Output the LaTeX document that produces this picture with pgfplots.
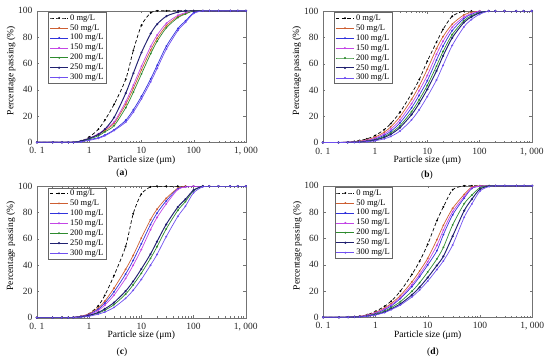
\documentclass[border=0pt]{standalone}
\usepackage{fontspec}
\setmainfont{Liberation Serif}
\usepackage{pgfplots}
\usepackage{pgfplotstable}
\pgfplotsset{compat=1.18}

\definecolor{cA}{RGB}{205,95,50}
\definecolor{cB}{RGB}{50,50,220}
\definecolor{cC}{RGB}{195,70,230}
\definecolor{cD}{RGB}{46,139,46}
\definecolor{cE}{RGB}{32,32,112}
\definecolor{cF}{RGB}{112,80,240}

\pgfplotstableread{
x c0 c50 c100 c150 c200 c250 c300
0.1 0 0 0 0 0 0 0
0.2 0 0 0 0 0 0 0
0.3 0 0 0 0 0 0 0
0.4 0 0 0 0 0 0 0
0.5 0 0.2 0 0.2 0.2 0 0
0.7 1 1 0.5 1 1 1 0.4
1 4 3 2 3 2.5 3 1.5
1.5 10 6 3.5 6.5 5 6 3
2 17 9 5.5 10 8 10 5
3 29 14.5 9.5 15.5 12.7 19 9
5 48 28.9 16.8 30.9 26.3 37.4 15.4
7 70 41.1 24.8 43.6 38.2 52.6 23
10 89 55.1 35 57.9 52 68.3 33
15 98.5 70.1 48.2 72.9 67.4 82.7 46
20 100 79.1 58.7 81.6 76.9 89.9 56.3
30 100 88.7 73.2 90.5 87.1 95.9 70.9
50 100 95.7 86.6 96.6 94.9 99 85.1
70 100 98 92.4 98.5 97.6 100 91.4
100 100 100 98.5 100 100 100 98
150 100 100 100 100 100 100 100
200 100 100 100 100 100 100 100
300 100 100 100 100 100 100 100
500 100 100 100 100 100 100 100
700 100 100 100 100 100 100 100
1000 100 100 100 100 100 100 100
}\tabA

\pgfplotstableread{
x c0 c50 c100 c150 c200 c250 c300
0.1 0 0 0 0 0 0 0
0.2 0 0 0 0 0 0 0
0.3 0.3 0.3 0.2 0.3 0.1 0.1 0.1
0.4 0.9 0.7 0.4 0.5 0.3 0.2 0.15
0.5 1.5 1.1 0.7 0.8 0.5 0.4 0.3
0.7 2.8 2.1 1.4 1.7 1.0 0.9 0.6
1 5.3 4.1 2.7 3.3 2.2 1.8 1.3
1.5 9.8 7.9 5.5 6.6 4.5 3.9 2.8
2 14.4 11.9 8.5 10.1 7.2 6.2 4.6
3 23 19.6 14.9 17.1 12.8 11.3 8.7
5 37.2 32.8 26.4 29.5 23.5 21.2 17.2
7 47.8 43 35.9 39.4 32.5 29.8 24.9
10 61.8 55.7 47 51 43.4 40.5 34.9
15 76.3 71.3 62.7 67.1 58.1 54.4 47.5
20 86 80.5 73.3 77 69.2 65.8 58.6
30 96 90 85.1 87.7 82.1 79.6 73.8
50 100 97 94.2 95.4 92.6 91.2 87.8
70 100 99 97.5 98 96.4 95.5 93.5
100 100 100 99.5 100 98.8 98.5 97.5
150 100 100 100 100 100 100 100
200 100 100 100 100 100 100 100
300 100 100 100 100 100 100 100
500 100 100 100 100 100 100 100
700 100 100 100 100 100 100 100
1000 100 100 100 100 100 100 100
}\tabB

\pgfplotstableread{
x c0 c50 c100 c150 c200 c250 c300
0.1 0 0 0 0 0 0 0
0.2 0 0 0 0 0 0 0
0.3 0 0 0 0 0 0 0
0.4 0 0 0 0 0 0 0
0.5 0 0.3 0.3 0.3 0.2 0.2 0.1
0.7 0.5 1.2 1.0 0.9 0.6 0.7 0.4
1 3 3 2.5 2.2 1.5 1.8 1.1
1.5 9 7.5 6.5 5.5 3.5 4 2.7
2 17 12.5 11 9.5 5.7 6.7 4.3
3 32 22.4 19.6 17.1 9.9 11.5 7.8
5 54 36.7 33.1 29.8 17.9 20.2 14.7
7 79 47.4 43.6 39.9 25 27.7 20.9
10 94 60.5 56.2 51.8 33.8 37 29.1
15 99.5 74.5 70.8 66.9 45.1 48.4 39.9
20 100 82.5 79.5 76.2 54 57.9 48.1
30 100 90.8 88.8 86.5 67.5 71 61.6
50 100 98.5 98 97.5 81.6 84.1 77
70 100 100 99.5 99.3 88.3 90.1 84.8
100 100 100 100 100 96.5 97 95
150 100 100 100 100 100 100 99.5
200 100 100 100 100 100 100 100
300 100 100 100 100 100 100 100
500 100 100 100 100 100 100 100
700 100 100 100 100 100 100 100
1000 100 100 100 100 100 100 100
}\tabC

\pgfplotstableread{
x c0 c50 c100 c150 c200 c250 c300
0.1 0 0 0 0 0 0 0
0.2 0 0 0 0 0 0 0
0.3 0.2 0.2 0.2 0.2 0.1 0.1 0.1
0.4 0.5 0.5 0.4 0.4 0.3 0.2 0.2
0.5 0.8 0.8 0.6 0.7 0.5 0.4 0.3
0.7 2 1.8 1.4 1.6 1.1 0.9 0.8
1 4.5 3.8 3 3.4 2.5 2 1.8
1.5 8.4 7.2 5.8 6.5 4.8 4 3.6
2 12.3 10.5 8.6 9.5 7.4 6.4 5.8
3 19.9 16.6 14.3 15.1 11.9 10.2 9.3
5 32.7 27 23.4 24.8 19.8 17.1 15.5
7 42.6 35.2 30.9 32.6 26.3 22.9 20.8
10 55.5 44.8 39.7 42.1 34.4 30.2 27.5
15 73.5 59 50.6 54.7 44.4 39.4 36.3
20 84 70 62.9 66.3 53.2 46.4 42.9
30 97 82.8 77.9 80.3 70.2 61.7 54.9
50 100 93.5 90.7 91.8 86.4 81.1 76.1
70 100 99 98 98.5 92.9 89.8 86.2
100 100 100 99.6 99.7 98.5 97.5 96
150 100 100 100 100 100 99.7 99.5
200 100 100 100 100 100 100 100
300 100 100 100 100 100 100 100
500 100 100 100 100 100 100 100
700 100 100 100 100 100 100 100
1000 100 100 100 100 100 100 100
}\tabD

\pgfplotsset{
  mypanel/.style={
    scale only axis, width=209pt, height=131.5pt,
    xmin=0.1, xmax=1000, ymin=0, ymax=100,
    xtick={0.1,1,10,100,1000},
    xticklabels={0. 1,1,10,100,{1, 000}},
    minor xtick={0.2,0.3,0.4,0.5,0.6,0.7,0.8,0.9,2,3,4,5,6,7,8,9,20,30,40,50,60,70,80,90,200,300,400,500,600,700,800,900},
    ytick={0,20,40,60,80,100},
    tick align=inside, major tick length=2.5pt, minor tick length=1.5pt,
    axis line style={black!55}, tick style={black!55},
    /pgf/number format/assume math mode=true,
    tick label style={font=\fontsize{9.5}{10}\selectfont, black!85},
    xticklabel style={yshift=-1.8pt},
    yticklabel style={xshift=-1pt},
    xlabel={Particle size (μm)},
    ylabel={Percentage passing (\%)},
    xlabel style={at={(axis description cs:0.5,-0.137)}, anchor=center, font=\fontsize{9.5}{10}\selectfont},
    ylabel style={at={(axis description cs:-0.124,0.546)}, anchor=center, font=\fontsize{9.5}{10}\selectfont},
    legend cell align=left,
    legend style={at={(axis description cs:0.055,0.99)}, anchor=north west,
      font=\fontsize{8.5}{9.5}\selectfont, draw=black!60, inner xsep=1pt, inner ysep=0.5pt,
      row sep=-0.4pt, nodes={inner sep=1.6pt}},
    legend image code/.code={\draw[mark repeat=2,mark phase=2,##1] plot coordinates {(0pt,0pt) (9pt,0pt) (18pt,0pt)};},
  },
  every axis plot/.append style={line width=0.7pt, mark=*, mark size=0.55pt, smooth, tension=0.45},
  s0/.style={black, dash pattern=on 3.5pt off 2.2pt, mark options={solid}},
  s50/.style={cA},
  s100/.style={cB},
  s150/.style={cC},
  s200/.style={cD},
  s250/.style={cE, line width=0.95pt},
  s300/.style={cF},
}

\newcommand{\curves}[1]{%
  \addplot[s0] table[x=x,y=c0]{#1};
  \addplot[s50] table[x=x,y=c50]{#1};
  \addplot[s100] table[x=x,y=c100]{#1};
  \addplot[s150] table[x=x,y=c150]{#1};
  \addplot[s200] table[x=x,y=c200]{#1};
  \addplot[s250] table[x=x,y=c250]{#1};
  \addplot[s300] table[x=x,y=c300]{#1};
  \legend{0 mg/L,50 mg/L,100 mg/L,150 mg/L,200 mg/L,250 mg/L,300 mg/L}
}

\begin{document}
\begin{tikzpicture}
\useasboundingbox (0,0) rectangle (550pt,-361pt);
\begin{semilogxaxis}[mypanel, at={(37pt,-142.3pt)}, anchor=south west]
\curves{\tabA}
\end{semilogxaxis}
\begin{semilogxaxis}[mypanel, at={(322.8pt,-142.5pt)}, anchor=south west]
\curves{\tabB}
\end{semilogxaxis}
\begin{semilogxaxis}[mypanel, at={(36.8pt,-317.7pt)}, anchor=south west]
\curves{\tabC}
\end{semilogxaxis}
\begin{semilogxaxis}[mypanel, at={(323.2pt,-317.3pt)}, anchor=south west]
\curves{\tabD}
\end{semilogxaxis}
\node[font=\fontsize{9.5}{10}\selectfont] at (122pt,-173pt) {(\textbf{a})};
\node[font=\fontsize{9.5}{10}\selectfont] at (427pt,-175pt) {(\textbf{b})};
\node[font=\fontsize{9.5}{10}\selectfont] at (122pt,-352pt) {(\textbf{c})};
\node[font=\fontsize{9.5}{10}\selectfont] at (433pt,-352pt) {(\textbf{d})};
\end{tikzpicture}
\end{document}
